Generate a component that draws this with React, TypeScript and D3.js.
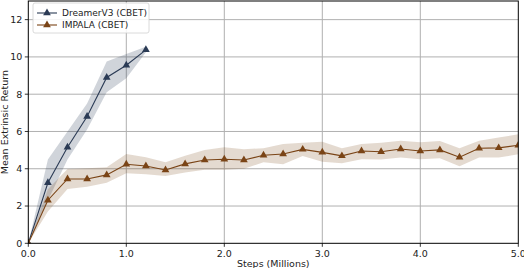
import React from "react";
import * as d3 from "d3";

const dreamerX = [0, 0.2, 0.4, 0.6, 0.8, 1.0, 1.2];
const dreamerY = [0, 3.25, 5.15, 6.8, 8.9, 9.55, 10.38];
const dreamerLo = [0, 2.3, 4.5, 6.1, 8.1, 8.85, 10.25];
const dreamerHi = [0, 4.5, 6.0, 7.5, 9.75, 10.15, 10.55];

const impalaX = [0, 0.2, 0.4, 0.6, 0.8, 1.0, 1.2, 1.4, 1.6, 1.8, 2.0, 2.2, 2.4, 2.6, 2.8, 3.0, 3.2, 3.4, 3.6, 3.8, 4.0, 4.2, 4.4, 4.6, 4.8, 5.0];
const impalaY = [0, 2.31, 3.45, 3.45, 3.67, 4.24, 4.15, 3.93, 4.26, 4.47, 4.51, 4.47, 4.72, 4.79, 5.04, 4.88, 4.69, 4.95, 4.91, 5.06, 4.95, 5.01, 4.62, 5.1, 5.12, 5.26];
const impalaLo = [0, 1.7, 2.91, 3.04, 3.25, 3.76, 3.7, 3.61, 3.8, 3.95, 3.95, 4.0, 4.35, 4.24, 4.69, 4.38, 4.29, 4.51, 4.5, 4.61, 4.51, 4.56, 4.13, 4.61, 4.6, 4.78];
const impalaHi = [0, 2.9, 3.99, 4.02, 4.08, 4.79, 4.62, 4.35, 4.7, 5.0, 5.15, 5.05, 5.1, 5.33, 5.4, 5.45, 5.1, 5.33, 5.4, 5.5, 5.42, 5.49, 5.1, 5.5, 5.67, 5.85];

const xTicks = [0, 1, 2, 3, 4, 5];
const yTicks = [0, 2, 4, 6, 8, 10, 12];

const seriesNames = ["DreamerV3 (CBET)", "IMPALA (CBET)"];

const W = 524, H = 268;
const left = 28.3, right = 518.3, top = 1, bottom = 243.3;
const FONT = "DejaVu Sans, sans-serif";

export default function App() {
  const x = d3.scaleLinear().domain([0, 5]).range([left, right]);
  const y = d3.scaleLinear().domain([0, 13]).range([bottom, top]);

  const series = [
    { name: seriesNames[0], xs: dreamerX, ys: dreamerY, lo: dreamerLo, hi: dreamerHi, color: "#2b3b55", band: "rgba(43,59,85,0.22)" },
    { name: seriesNames[1], xs: impalaX, ys: impalaY, lo: impalaLo, hi: impalaHi, color: "#7a4416", band: "rgba(122,68,22,0.2)" },
  ];

  const tri = d3.symbol().type(d3.symbolTriangle).size(26)();

  return (
    <svg width={W} height={H} style={{ position: "absolute", left: 0, top: 0, background: "#fff" }}>
      <defs>
        <clipPath id="plot">
          <rect x={left} y={top} width={right - left} height={bottom - top} />
        </clipPath>
      </defs>
      {/* grid */}
      {xTicks.slice(1, -1).map((t) => (
        <line key={"gx" + t} x1={x(t)} x2={x(t)} y1={top} y2={bottom} stroke="#b0b0b0" strokeWidth={1} />
      ))}
      {yTicks.slice(1).map((t) => (
        <line key={"gy" + t} x1={left} x2={right} y1={y(t)} y2={y(t)} stroke="#b0b0b0" strokeWidth={1} />
      ))}
      <g clipPath="url(#plot)">
        {series.map((s) => {
          const idx = s.xs.map((_, i) => i);
          const area = d3.area<number>().x((i) => x(s.xs[i])).y0((i) => y(s.lo[i])).y1((i) => y(s.hi[i]));
          const line = d3.line<number>().x((i) => x(s.xs[i])).y((i) => y(s.ys[i]));
          return (
            <g key={s.name}>
              <path d={area(idx) || ""} fill={s.band} stroke="none" />
              <path d={line(idx) || ""} fill="none" stroke={s.color} strokeWidth={1.1} />
              {idx.map((i) => (
                <path key={i} d={tri || ""} transform={`translate(${x(s.xs[i])},${y(s.ys[i])})`} fill={s.color} />
              ))}
            </g>
          );
        })}
      </g>
      {/* spines */}
      <rect x={left} y={top} width={right - left} height={bottom - top} fill="none" stroke="#000" strokeWidth={1} />
      {/* ticks */}
      {xTicks.map((t) => (
        <g key={"xt" + t}>
          <line x1={x(t)} x2={x(t)} y1={bottom} y2={bottom + 3.5} stroke="#000" strokeWidth={0.8} />
          <text x={x(t)} y={bottom + 14} textAnchor="middle" fontFamily={FONT} fontSize={9.5} fill="#222">
            {t.toFixed(1)}
          </text>
        </g>
      ))}
      {yTicks.map((t) => (
        <g key={"yt" + t}>
          <line x1={left - 3.5} x2={left} y1={y(t)} y2={y(t)} stroke="#000" strokeWidth={0.8} />
          <text x={left - 6} y={y(t)} dy="0.35em" textAnchor="end" fontFamily={FONT} fontSize={9.5} fill="#222">
            {t}
          </text>
        </g>
      ))}
      <text x={(left + right) / 2} y={H - 1} textAnchor="middle" fontFamily={FONT} fontSize={9.5} fill="#222">
        Steps (Millions)
      </text>
      <text transform={`translate(8,${(top + bottom) / 2}) rotate(-90)`} textAnchor="middle" fontFamily={FONT} fontSize={9.5} fill="#222">
        Mean Extrinsic Return
      </text>
      {/* legend */}
      <rect x={33} y={3} width={116} height={30} fill="#fff" fillOpacity={0.85} stroke="#d0d0d0" strokeWidth={0.8} rx={2} />
      {series.map((s, i) => {
        const ly = 13 + i * 12;
        return (
          <g key={"lg" + i}>
            <line x1={37} x2={57} y1={ly} y2={ly} stroke={s.color} strokeWidth={1.1} />
            <path d={tri || ""} transform={`translate(47,${ly})`} fill={s.color} />
            <text x={62} y={ly} dy="0.35em" fontFamily={FONT} fontSize={9} fill="#222">
              {s.name}
            </text>
          </g>
        );
      })}
    </svg>
  );
}
